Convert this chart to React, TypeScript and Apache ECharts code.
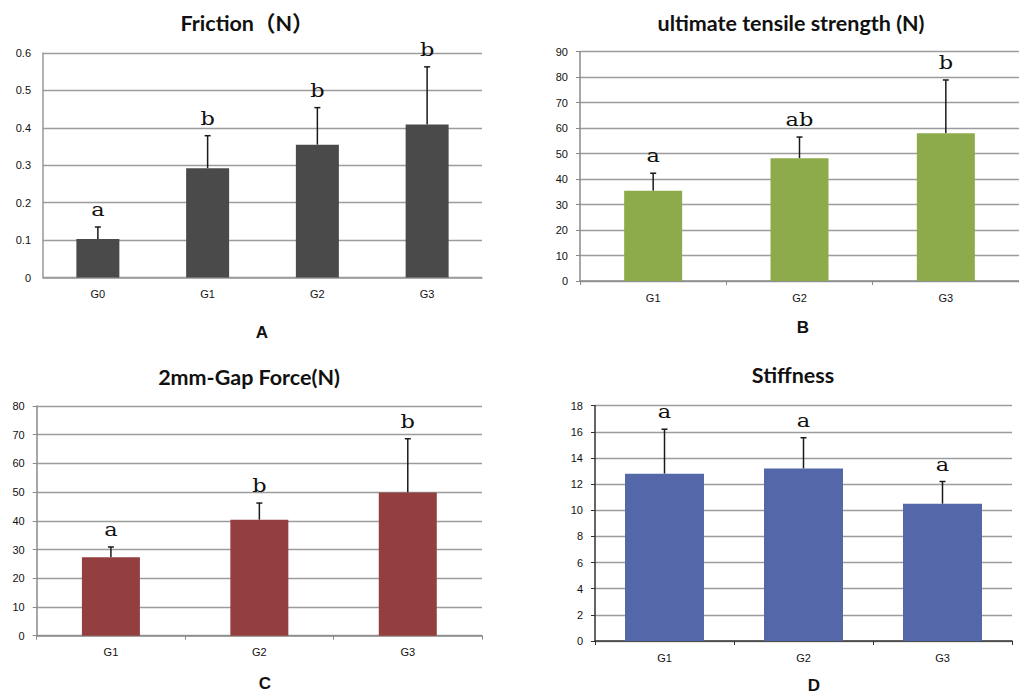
import React, { useEffect, useRef } from "react";
import * as echarts from "echarts";

// Panel A: Friction (N)
const catsA = ["G0", "G1", "G2", "G3"];
const meanA = [0.103, 0.292, 0.355, 0.409];
const sdA = [0.032, 0.087, 0.099, 0.154];
const letA = ["a", "b", "b", "b"];

// Panel B: ultimate tensile strength (N)
const catsB = ["G1", "G2", "G3"];
const meanB = [35.4, 48.2, 58.0];
const sdB = [6.9, 8.3, 20.9];
const letB = ["a", "ab", "b"];

// Panel C: 2mm-Gap Force (N)
const catsC = ["G1", "G2", "G3"];
const meanC = [27.3, 40.4, 49.9];
const sdC = [3.6, 5.8, 18.7];
const letC = ["a", "b", "b"];

// Panel D: Stiffness
const catsD = ["G1", "G2", "G3"];
const meanD = [12.8, 13.2, 10.5];
const sdD = [3.4, 2.35, 1.7];
const letD = ["a", "a", "a"];

const TICK_FONT = { fontFamily: "'Liberation Sans', Arial, sans-serif", fontSize: 11, color: "#111" };

function errSeries(idx: number, mean: number[], sd: number[], letters: string[]) {
  return {
    type: "custom",
    xAxisIndex: idx,
    yAxisIndex: idx,
    clip: false,
    silent: true,
    data: mean.map((m, i) => [i, m, m + sd[i]]),
    renderItem: (params: any, api: any) => {
      const i = api.value(0);
      const base = api.coord([i, api.value(1)]);
      const top = api.coord([i, api.value(2)]);
      const x = base[0];
      const st = { stroke: "#1a1a1a", lineWidth: 1.5 };
      return {
        type: "group",
        children: [
          { type: "line", shape: { x1: x, y1: base[1], x2: x, y2: top[1] }, style: st },
          { type: "line", shape: { x1: x - 3, y1: top[1], x2: x + 3, y2: top[1] }, style: st },
          {
            type: "text",
            x: x,
            y: top[1] - 17,
            scaleX: 1.25,
            style: {
              text: letters[params.dataIndex],
              x: 0,
              y: 0,
              align: "center",
              verticalAlign: "middle",
              fontFamily: "'DejaVu Serif', serif",
              fontSize: 18,
              fill: "#111",
            },
          },
        ],
      };
    },
  };
}

export default function App() {
  const ref = useRef<HTMLDivElement>(null);
  useEffect(() => {
    if (!ref.current) return;
    const chart = echarts.init(ref.current, null, { renderer: "svg" });
    const grids = [
      { left: 43, top: 53, width: 439, height: 224.5 },
      { left: 580, top: 51.7, width: 440, height: 229.3 },
      { left: 36.7, top: 406, width: 445.3, height: 229.7 },
      { left: 595, top: 405.7, width: 417, height: 235.3 },
    ];
    const cats = [catsA, catsB, catsC, catsD];
    const maxes = [0.6, 90, 80, 18];
    const intervals = [0.1, 10, 10, 2];
    const axisColors = ["#999", "#8a8a8a", "#8a8a8a", "#333"];
    const colors = ["#4a4a4a", "#8dab4b", "#943f3f", "#5367a9"];
    const barWidths = [43, 58, 58, 79];
    const means = [meanA, meanB, meanC, meanD];
    const sds = [sdA, sdB, sdC, sdD];
    const lets = [letA, letB, letC, letD];

    const xAxis = cats.map((c, i) => ({
      type: "category",
      gridIndex: i,
      data: c,
      boundaryGap: true,
      axisLine: { show: true, lineStyle: { color: axisColors[i], width: 1.5 } },
      axisTick: { show: i !== 0, length: 4, lineStyle: { color: axisColors[i] } },
      axisLabel: { ...TICK_FONT, margin: 11 },
    }));
    const yAxis = maxes.map((mx, i) => ({
      type: "value",
      gridIndex: i,
      min: 0,
      max: mx,
      interval: intervals[i],
      axisLine: { show: true, lineStyle: { color: axisColors[i], width: 1.5 } },
      axisTick: { show: i !== 0, length: 4, lineStyle: { color: axisColors[i] } },
      axisLabel: { ...TICK_FONT, margin: 12 },
      splitLine: { show: true, lineStyle: { color: "#9c9c9c", width: 1.3 } },
    }));
    const series: any[] = [];
    for (let i = 0; i < 4; i++) {
      series.push({
        type: "bar",
        xAxisIndex: i,
        yAxisIndex: i,
        data: means[i],
        barWidth: barWidths[i],
        itemStyle: { color: colors[i] },
        silent: true,
      });
      series.push(errSeries(i, means[i], sds[i], lets[i]));
    }
    const titleStyle = { fontFamily: "Lato, 'Noto Sans', 'Noto Sans CJK SC', sans-serif", fontSize: 21.5, fontWeight: "bold", fill: "#111" };
    const letterStyle = { fontFamily: "'Liberation Sans', Arial, sans-serif", fontSize: 17, fontWeight: "bold", fill: "#111" };
    const mk = (text: string, x: number, y: number, st: any) => ({
      type: "text",
      x,
      y,
      style: { ...st, text, align: "center", verticalAlign: "middle" },
    });
    chart.setOption({
      animation: false,
      backgroundColor: "#fff",
      grid: grids,
      xAxis,
      yAxis,
      series,
      graphic: [
        mk("Friction（N）", 247, 23, titleStyle),
        mk("ultimate tensile strength (N)", 791, 23, titleStyle),
        mk("2mm-Gap Force(N)", 249, 377, titleStyle),
        mk("Stiffness", 793, 375, titleStyle),
        mk("A", 262, 332, letterStyle),
        mk("B", 803, 327, letterStyle),
        mk("C", 265, 683, letterStyle),
        mk("D", 814, 685, letterStyle),
      ],
    });
    return () => chart.dispose();
  }, []);
  return (
    <div
      ref={ref}
      style={{ position: "fixed", left: 0, top: 0, width: 1019, height: 693, background: "#fff" }}
    />
  );
}
